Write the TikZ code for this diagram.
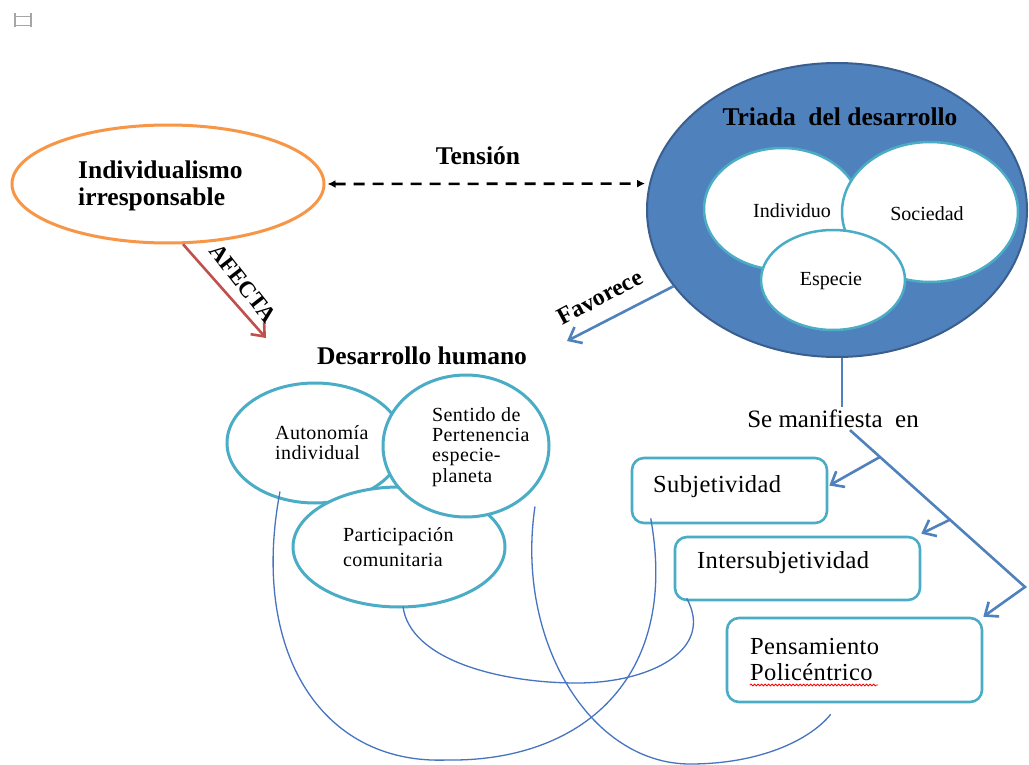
\documentclass[tikz,border=0pt]{standalone}
\usepackage{fontspec}
\setmainfont{Liberation Serif}
\usetikzlibrary{shapes.geometric,arrows.meta,calc,decorations.pathmorphing}
\definecolor{orangeline}{HTML}{F79646}
\definecolor{triadfill}{HTML}{4F81BD}
\definecolor{triadedge}{HTML}{3A5F8F}
\definecolor{aqua}{HTML}{4BACC6}
\definecolor{redline}{HTML}{C0504D}
\definecolor{blueline}{HTML}{4F81BD}
\definecolor{thinblue}{HTML}{4674C1}
\begin{document}
\begin{tikzpicture}[x=1pt,y=-1pt,
  oval/.style={ellipse, draw=aqua, fill=white, line width=3pt, inner sep=0pt},
  innercircle/.style={ellipse, draw=aqua, fill=white, line width=2.5pt, inner sep=0pt},
  roundbox/.style={rectangle, rounded corners=12pt, draw=aqua, fill=white, line width=2.6pt, inner sep=0pt},
  headtext/.style={font=\fontsize{25.5}{27}\selectfont\bfseries, inner sep=0pt},
  tagtext/.style={font=\fontsize{23}{25}\selectfont\bfseries, inner sep=0pt},
  boxtext/.style={font=\fontsize{24.5}{26}\selectfont\addfontfeature{LetterSpace=1.5}, inner sep=0pt, align=left, anchor=west},
  smalltext/.style={inner sep=0pt, align=left, anchor=west},
  circletext/.style={font=\fontsize{20}{20}\selectfont, inner sep=0pt},
  bluearrow/.style={draw=blueline, line width=2.6pt, -{Straight Barb[length=11pt,width=18pt]}},
  blueplain/.style={draw=blueline, line width=2.6pt},
  redarrow/.style={draw=redline, line width=2.6pt, -{Straight Barb[length=11pt,width=18pt]}},
  dasharrow/.style={draw=black, line width=2.6pt, dash pattern=on 11pt off 8pt,
    {Latex[length=8pt,width=8pt]}-{Latex[length=8pt,width=8pt]}},
  thinlink/.style={draw=thinblue, line width=1.3pt}]
\useasboundingbox (0,0) rectangle (1029,765);
\clip (0,0) rectangle (1029,765);
\fill[white] (0,0) rectangle (1029,765);

% small anchor mark in the corner
\draw[gray!70, line width=1.8pt] (15,13) -- (15,27) (31,13) -- (31,27)
  (15,16.5) -- (31,16.5) (15,25.5) -- (31,25.5);

% left ellipse
\node[ellipse, draw=orangeline, fill=white, line width=3pt, inner sep=0pt,
  minimum width=312pt, minimum height=118pt] (ind) at (168,184) {};
\node[headtext, align=left, anchor=west] (indtxt) at (78,186) {Individualismo\\irresponsable};

% development triad
\node[ellipse, fill=triadfill, draw=triadedge, line width=2pt, inner sep=0pt,
  minimum width=380pt, minimum height=294pt] (triada) at (837,210) {};
\node[headtext] (triadatxt) at (840,117) {Triada\ \ del desarrollo};
\node[innercircle, minimum width=156pt, minimum height=122pt] (indiv) at (782,209) {};
\node[innercircle, minimum width=176pt, minimum height=140pt] (soc) at (930,212) {};
\node[innercircle, minimum width=144pt, minimum height=100pt] (esp) at (833,280) {};
\node[circletext] (indivtxt) at (792,211) {Individuo};
\node[circletext] (soctxt) at (927,214) {Sociedad};
\node[circletext] (esptxt) at (831,281) {Especie};

% tension between both
\draw[dasharrow, shorten <=2pt, shorten >=4pt] (ind.east) -- (triada.172);
\node[headtext] (tension) at (478,156) {Tensión};

% human development
\node[headtext] (dh) at (422,356) {Desarrollo humano};
\node[oval, minimum width=176pt, minimum height=120pt] (aut) at (315,443) {};
\node[oval, minimum width=212pt, minimum height=120pt] (par) at (399,547) {};
\node[oval, minimum width=166pt, minimum height=142pt] (sen) at (466,446) {};
\node[smalltext, font=\fontsize{20}{20}\selectfont\addfontfeature{LetterSpace=2}] (auttxt) at (275,443) {Autonomía\\individual};
\node[smalltext, font=\fontsize{20}{20.3}\selectfont\addfontfeature{LetterSpace=2}] (sentxt) at (432,447) {Sentido de\\Pertenencia\\especie-\\planeta};
\node[smalltext, font=\fontsize{20}{25}\selectfont\addfontfeature{LetterSpace=2}] (partxt) at (343,547) {Participación\\comunitaria};

% affects / favours
\coordinate (afectatip) at (266,338);
\draw[redarrow] (ind.284) -- (afectatip);
\node[tagtext, rotate=-52] (afecta) at (243,283) {AFECTA};
\coordinate (favtip) at (567,341);
\draw[bluearrow] (triada.205) -- (favtip);
\node[tagtext, font=\fontsize{24}{25}\selectfont\bfseries, rotate=28] (favorece) at (600,297) {Favorece};

% manifestations
\node[font=\fontsize{25}{26}\selectfont, inner sep=3pt] (manif) at (833,419) {Se manifiesta\ \ en};
\draw[blueplain] (triada.272) -- (triada.272 |- manif.north);

\node[roundbox, minimum width=195pt, minimum height=65pt] (sub) at (729.5,490.5) {};
\node[roundbox, minimum width=245pt, minimum height=63pt] (inter) at (797.5,568.5) {};
\node[roundbox, minimum width=255pt, minimum height=84pt] (pen) at (854.5,660) {};
\node[boxtext] (subtxt) at (653,487) {Subjetividad};
\node[boxtext] (intertxt) at (697,563) {Intersubjetividad};
\node[boxtext] (pentxt) at (750,660) {Pensamiento\\Policéntrico};
\draw[red, line width=0.8pt, decorate, decoration={snake, amplitude=0.9pt, segment length=3.5pt}]
  (750,685) -- (878,685);

\coordinate (mstart) at ($(manif.south)+(17,-1)$);
\coordinate (bend) at (1025,587);
\path (mstart) -- (bend) coordinate[pos=0.171] (b1) coordinate[pos=0.571] (b2);
\draw[bluearrow] (mstart) -- (bend) -- (pen.north east);
\draw[bluearrow] (b1) -- ($(sub.east)+(1,-5)$);
\draw[bluearrow] (b2) -- ($(inter.north east)+(0,-2)$);

% cross links between the two groups
\draw[thinlink] ($(aut.south)+(-35,-13)$) .. controls (250,650) and (320,765) .. (447,760)
  .. controls (580,762) and (680,680) .. ($(sub.south west)+(20,-6)$);
\draw[thinlink] ($(par.south)+(4,-2)$) .. controls (410,660) and (500,683) .. (577,683)
  .. controls (650,683) and (715,650) .. ($(inter.south west)+(13,-3)$);
\draw[thinlink] ($(sen.south)+(69,-12)$) .. controls (515,640) and (590,764) .. (690,764)
  .. controls (760,764) and (810,740) .. ($(pen.south west)+(105,11)$);
\end{tikzpicture}
\end{document}
